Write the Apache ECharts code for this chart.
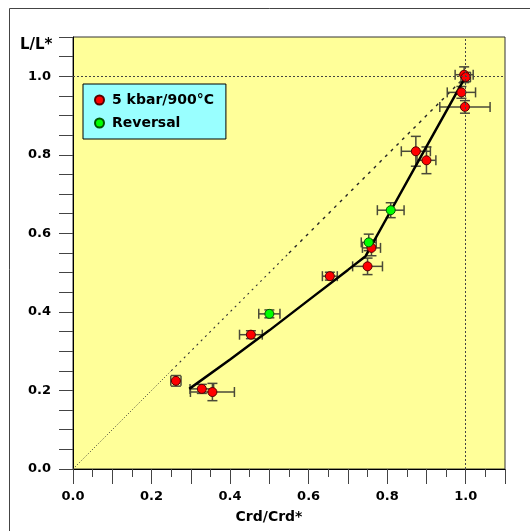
<!DOCTYPE html>
<html>
<head>
<meta charset="utf-8">
<script src="https://cdn.jsdelivr.net/npm/echarts@6/dist/echarts.min.js"></script>
<style>
  html, body { margin: 0; padding: 0; background: #ffffff; }
  #chart { width: 530px; height: 531px; }
</style>
</head>
<body>
<div id="chart"></div>
<script>
// Experimental runs at 5 kbar / 900 °C: normalised Crd vs. L with 1-sigma errors
const runX    = [0.996, 1.000, 0.989, 0.998, 0.873, 0.900, 0.760, 0.750, 0.654, 0.453, 0.262, 0.328, 0.355];
const runY    = [1.004, 0.998, 0.959, 0.922, 0.809, 0.786, 0.563, 0.516, 0.491, 0.342, 0.2245, 0.204, 0.196];
const runXErr = [0.023, 0.012, 0.036, 0.064, 0.037, 0.024, 0.023, 0.038, 0.019, 0.029, 0.013, 0.030, 0.056];
const runYErr = [0.020, 0.012, 0.015, 0.016, 0.038, 0.034, 0.020, 0.021, 0.010, 0.010, 0.0135, 0.0115, 0.022];

// Reversal experiments
const revX    = [0.809, 0.753, 0.500];
const revY    = [0.659, 0.577, 0.395];
const revXErr = [0.034, 0.019, 0.027];
const revYErr = [0.019, 0.021, 0.010];

// Fitted trend through the run data
const trendX = [0.296, 0.400, 0.500, 0.600, 0.700, 0.745, 0.800, 0.900, 1.000];
const trendY = [0.204, 0.279, 0.353, 0.430, 0.507, 0.542, 0.641, 0.821, 1.000];

// 1:1 reference, drawn in three pieces with growing dash length
const diagLow  = [0.00, 0.25];
const diagMid  = [0.25, 0.55];
const diagHigh = [0.55, 1.00];

// Axis tick labels
const xTickLabels = ['0.0', '0.2', '0.4', '0.6', '0.8', '1.0'];
const yTickLabels = ['0.0', '0.2', '0.4', '0.6', '0.8', '1.0'];

const FONT = 'DejaVu Sans';

function zip(xs, ys) { return xs.map((x, i) => [x, ys[i]]); }
function zipErr(xs, ys, xe, ye) { return xs.map((x, i) => [x, ys[i], xe[i], ye[i]]); }

function errorBars(params, api) {
  const x = api.value(0), y = api.value(1), ex = api.value(2), ey = api.value(3);
  const l = api.coord([x - ex, y]), r = api.coord([x + ex, y]);
  const b = api.coord([x, y - ey]), t = api.coord([x, y + ey]);
  const cap = 5;
  const style = { stroke: '#4a4a38', lineWidth: 1.5 };
  const seg = (x1, y1, x2, y2) => ({ type: 'line', shape: { x1, y1, x2, y2 }, style });
  return {
    type: 'group',
    children: [
      seg(l[0], l[1], r[0], r[1]),
      seg(l[0], l[1] - cap, l[0], l[1] + cap),
      seg(r[0], r[1] - cap, r[0], r[1] + cap),
      seg(b[0], b[1], t[0], t[1]),
      seg(b[0] - cap, b[1], b[0] + cap, b[1]),
      seg(t[0] - cap, t[1], t[0] + cap, t[1])
    ]
  };
}

function tickLabel(labels) {
  return function (v) {
    const s = v.toFixed(1);
    const k = Math.round(v * 100);
    return (k % 20 === 0 && labels.indexOf(s) >= 0) ? s : '';
  };
}

const chart = echarts.init(document.getElementById('chart'), null, { renderer: 'canvas' });

chart.setOption({
  animation: false,
  backgroundColor: '#ffffff',
  grid: {
    left: 73, top: 37, width: 432, height: 432,
    show: true, backgroundColor: '#FFFF99', borderColor: '#333333', borderWidth: 1
  },
  legend: {
    data: ['5 kbar/900°C', 'Reversal'],
    orient: 'vertical',
    left: 83, top: 84,
    backgroundColor: '#99FFFF',
    borderColor: '#000000', borderWidth: 1,
    padding: [8, 12, 8, 11],
    itemWidth: 9, itemHeight: 9, itemGap: 7,
    icon: 'circle',
    textStyle: { fontFamily: FONT, fontWeight: 'bold', fontSize: 14, color: '#000', lineHeight: 16, padding: [0, 0, 0, 3] }
  },
  xAxis: {
    type: 'value', min: 0, max: 1.1, interval: 0.1,
    axisLine: { lineStyle: { color: '#000', width: 1 } },
    axisTick: { length: 15, lineStyle: { color: '#444' } },
    minorTick: { show: true, splitNumber: 2, length: 8, lineStyle: { color: '#444' } },
    splitLine: { show: false },
    axisLabel: {
      margin: 21, fontFamily: FONT, fontWeight: 'bold', fontSize: 13, color: '#000',
      formatter: tickLabel(xTickLabels)
    }
  },
  yAxis: {
    type: 'value', min: 0, max: 1.1, interval: 0.05,
    axisLine: { lineStyle: { color: '#000', width: 1 } },
    axisTick: { length: 14, lineStyle: { color: '#444' } },
    splitLine: { show: false },
    axisLabel: {
      margin: 22, fontFamily: FONT, fontWeight: 'bold', fontSize: 13, color: '#000',
      padding: [0, 0, 3, 0],
      formatter: tickLabel(yTickLabels)
    }
  },
  graphic: [
    { type: 'line', shape: { x1: 9.5, y1: 8.5, x2: 530, y2: 8.5 }, style: { stroke: '#444', lineWidth: 1 } },
    { type: 'line', shape: { x1: 9.5, y1: 8.5, x2: 9.5, y2: 531 }, style: { stroke: '#444', lineWidth: 1 } },
    { type: 'text', left: 20, top: 38, style: { text: 'L/L*', fontFamily: FONT, fontWeight: 'bold', fontSize: 15, fill: '#000' } },
    { type: 'text', x: 269, y: 517, style: { text: 'Crd/Crd*', fontFamily: FONT, fontWeight: 'bold', fontSize: 14, fill: '#000', align: 'center', verticalAlign: 'middle' } }
  ],
  series: [
    {
      type: 'line', data: zip(diagLow, diagLow), symbol: 'none', silent: true, z: 1,
      lineStyle: { color: '#333', width: 1, type: [1, 2] },
      markLine: {
        silent: true, symbol: 'none', label: { show: false },
        lineStyle: { color: '#444', width: 1, type: [2, 2] },
        data: [{ yAxis: 1 }, { xAxis: 1 }]
      }
    },
    { type: 'line', data: zip(diagMid, diagMid), symbol: 'none', silent: true, z: 1, lineStyle: { color: '#333', width: 1.1, type: [2, 4] } },
    { type: 'line', data: zip(diagHigh, diagHigh), symbol: 'none', silent: true, z: 1, lineStyle: { color: '#222', width: 1.4, type: [3, 5] } },
    { type: 'custom', renderItem: errorBars, data: zipErr(runX, runY, runXErr, runYErr), z: 2, silent: true },
    { type: 'custom', renderItem: errorBars, data: zipErr(revX, revY, revXErr, revYErr), z: 2, silent: true },
    {
      type: 'line', data: zip(trendX, trendY), symbol: 'none', silent: true, z: 3,
      lineStyle: { color: '#000', width: 2.5 }
    },
    {
      name: '5 kbar/900°C', type: 'scatter', data: zip(runX, runY), symbol: 'circle', symbolSize: 9, z: 4,
      itemStyle: { color: '#FF0000', borderColor: '#550000', borderWidth: 1, opacity: 1 }
    },
    {
      name: 'Reversal', type: 'scatter', data: zip(revX, revY), symbol: 'circle', symbolSize: 9, z: 4,
      itemStyle: { color: '#00FF00', borderColor: '#005500', borderWidth: 1, opacity: 1 }
    }
  ]
});
</script>
</body>
</html>
